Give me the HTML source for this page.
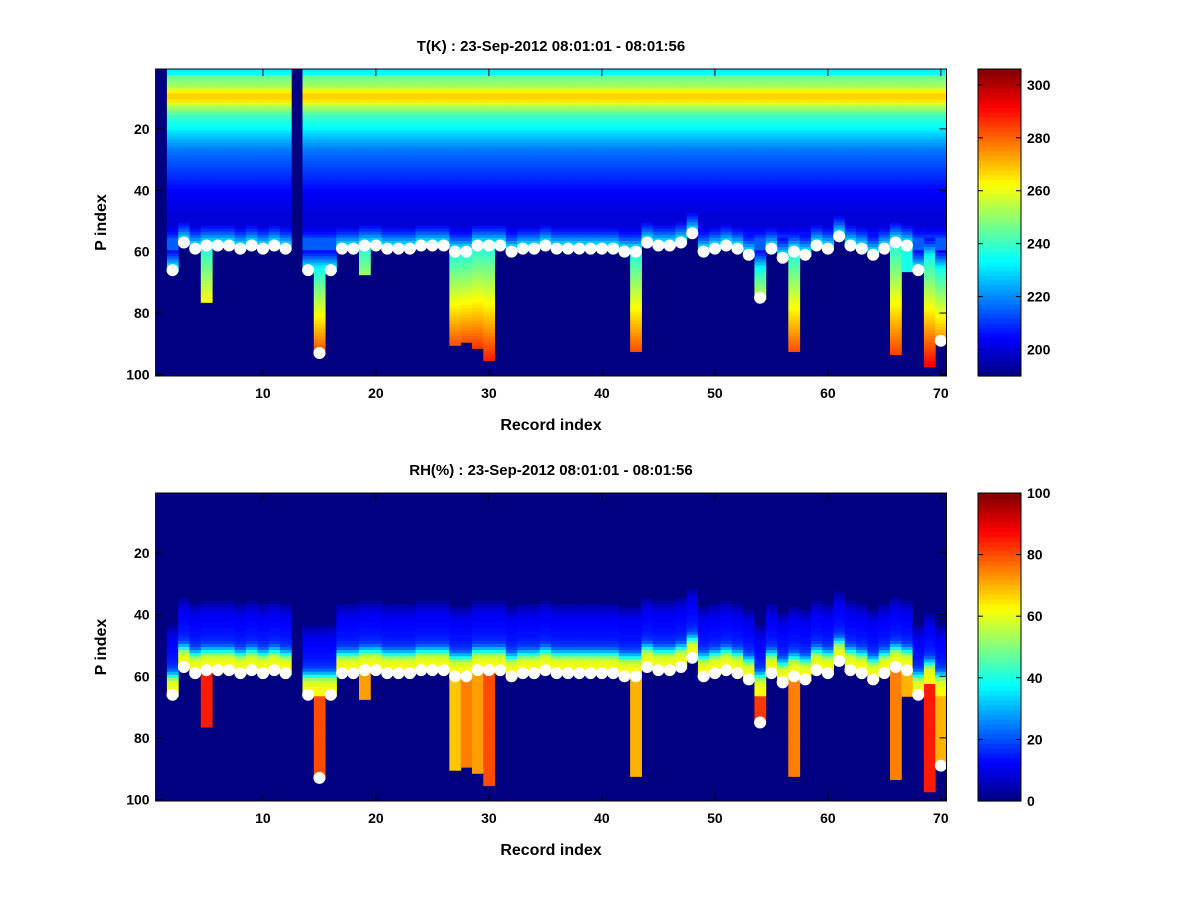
<!DOCTYPE html>
<html><head><meta charset="utf-8"><style>
body{margin:0;background:#fff;}
svg text{font-family:"Liberation Sans",sans-serif;font-weight:bold;}
</style></head><body>
<svg id="fig" width="1200" height="900" xmlns="http://www.w3.org/2000/svg">
<rect width="1200" height="900" fill="#fff"/>
<g id="top"></g>
<g id="bot"></g>
</svg>
<script>
const records = Array.from({length:70},(_,i)=>i+1);
// White surface markers (P index), NaN = no marker
const markerP = [NaN,66,57,59,58,58,58,59,58,59,58,59,NaN,66,93,66,59,59,58,58,59,59,59,58,58,58,60,60,58,58,58,60,59,59,58,59,59,59,59,59,59,60,60,57,58,58,57,54,60,59,58,59,61,75,59,62,60,61,58,59,55,58,59,61,59,57,58,66,NaN,89];
// Profile surface level (P index), NaN = missing column
const surfaceP = [NaN,66,57,59,58,58,58,59,58,59,58,59,NaN,66,93,66,59,59,58,58,59,59,59,58,58,58,60,60,58,58,58,60,59,59,58,59,59,59,59,59,59,60,60,57,58,58,57,54,60,59,58,59,61,75,59,62,60,61,58,59,55,58,59,61,59,57,58,66,62,89];
// Last P index with data
const bottomP = [0,66,57,59,76,58,58,59,58,59,58,59,0,66,92,66,59,59,67,58,59,59,59,58,58,58,90,89,91,95,58,60,59,59,58,59,59,59,59,59,59,60,92,57,58,58,57,54,60,59,58,59,61,75,59,62,92,61,58,59,55,58,59,61,59,93,66,66,97,89];
// Temperature at bottom of column (K)
const bottomT = [0,236,236,236,262,236,236,236,236,236,236,236,0,236,284,236,236,236,250,236,236,236,236,236,236,236,282,282,285,288,236,236,236,236,236,236,236,236,236,236,236,236,282,236,236,236,236,236,236,236,236,236,236,258,236,236,282,236,236,236,236,236,236,236,236,284,236,236,292,276];
// Typical upper temperature profile (K), P index 1..56
const tProfile = [232,234,244,248,250,252,258,264,268,267,265,258,252,248,244,240,238,236,235,233,230,228,226,224,222,220,218,217,216,215,214,213,212,211,210,209,208,207,206,205,204,203,203,202,202,201,201,200,200,200,200,201,203,206,210,215];
// Near-surface temperature (K), distance 6..0 above surface
const tNearSurf = [206,210,215,221,227,232,236];
// Near-surface RH (%), distance 22..0 above surface
const rhNearSurf = [4,6,8,10,11,12,12,13,13,14,14,15,16,18,22,30,40,52,58,60,62,62,62];
const rhBelow = [0,70,0,0,85,0,0,0,0,0,0,0,0,0,80,72,0,0,72,0,0,0,0,0,0,0,68,75,72,80,0,0,0,0,0,0,0,0,0,0,0,0,70,0,0,0,0,0,0,0,0,0,0,82,0,0,75,0,0,0,0,0,0,0,0,75,0,0,85,70];
const tTicks=[200,220,240,260,280,300], rhTicks=[0,20,40,60,80,100];
const xTicks=[10,20,30,40,50,60,70], yTicks=[20,40,60,80,100];

function jet(v){v=Math.max(0,Math.min(1,v));
 const f=t=>Math.max(0,Math.min(1,1.5-Math.abs(4*v-t)));
 return `rgb(${Math.round(255*f(3))},${Math.round(255*f(2))},${Math.round(255*f(1))})`;}
const NS='http://www.w3.org/2000/svg';
function el(p,tag,a,txt){const e=document.createElementNS(NS,tag);for(const k in a)e.setAttribute(k,a[k]);if(txt!==undefined)e.textContent=txt;p.appendChild(e);return e;}

function panel(g,cfg){
 const X0=155.6,X1=946.5,xs=(X1-X0)/70;
 const xr=r=>X0+(r-1)*xs;
 const ys=(cfg.Y1-cfg.Y0)/100, yp=p=>cfg.Y0+(p-1)*ys;
 const bg=el(g,'rect',{x:X0,y:cfg.Y0,width:X1-X0,height:cfg.Y1-cfg.Y0,fill:jet(0)});
 
 
 records.forEach((r,i)=>{
  const s0=surfaceP[i]; if(isNaN(s0)) return;
  const s=Math.min(s0,66);
  const last=Math.max(bottomP[i],s0);
  for(let p=1;p<=last;p++){
   const v=cfg.val(i,p,s,last); if(v===null) continue;
   const c=el(g,'rect',{x:xr(r),y:yp(p),width:xs+0.5,height:ys+0.5,fill:jet((v-cfg.min)/(cfg.max-cfg.min))});
   
   
  }
 });
 records.forEach((r,i)=>{const s=markerP[i];if(isNaN(s))return;
  const d=el(g,'circle',{cx:xr(r)+xs/2,cy:yp(s)+ys/2,r:6,fill:'#fff'});
  
  });
 el(g,'rect',{x:X0,y:cfg.Y0,width:X1-X0,height:cfg.Y1-cfg.Y0,fill:'none',stroke:'#000','stroke-width':1});
 xTicks.forEach(t=>{const x=xr(t)+xs/2;
  el(g,'line',{x1:x,x2:x,y1:cfg.Y1,y2:cfg.Y1-7,stroke:'#000'});
  el(g,'line',{x1:x,x2:x,y1:cfg.Y0,y2:cfg.Y0+7,stroke:'#000'});
  const l=el(g,'text',{x:x,y:cfg.Y1+22,'text-anchor':'middle','font-size':14},t);
  
  });
 yTicks.forEach(t=>{const y=yp(t)+ys/2;
  el(g,'line',{x1:X0,x2:X0+7,y1:y,y2:y,stroke:'#000'});
  el(g,'line',{x1:X1,x2:X1-7,y1:y,y2:y,stroke:'#000'});
  const l=el(g,'text',{x:X0-6,y:y+5,'text-anchor':'end','font-size':14},t);
  
  });
 const tt=el(g,'text',{x:551,y:cfg.Y0-18,'text-anchor':'middle','font-size':15},cfg.title);
 
 
 const xl=el(g,'text',{x:551,y:cfg.Y1+54,'text-anchor':'middle','font-size':16},'Record index');
 
 
 const yc=(cfg.Y0+cfg.Y1)/2;
 const yl=el(g,'text',{x:106,y:yc,'text-anchor':'middle','font-size':16,transform:`rotate(-90 106 ${yc})`},'P index');
 
 
 const CX=978,CW=43,cb=el(g,'g',{});
 
 
 const n=64,h=(cfg.Y1-cfg.Y0)/n;
 for(let k=0;k<n;k++) el(cb,'rect',{x:CX,y:cfg.Y1-(k+1)*h,width:CW,height:h+0.6,fill:jet((k+0.5)/n)});
 el(cb,'rect',{x:CX,y:cfg.Y0,width:CW,height:cfg.Y1-cfg.Y0,fill:'none',stroke:'#000'});
 cfg.ticks.forEach(t=>{const y=cfg.Y1-(t-cfg.min)/(cfg.max-cfg.min)*(cfg.Y1-cfg.Y0);
  el(cb,'line',{x1:CX,x2:CX+5,y1:y,y2:y,stroke:'#000'});
  el(cb,'line',{x1:CX+CW,x2:CX+CW-5,y1:y,y2:y,stroke:'#000'});
  const l=el(cb,'text',{x:CX+CW+6,y:y+5,'font-size':14},t);
  
  });
}

panel(document.getElementById('top'),{Y0:69,Y1:376,min:190,max:306,ticks:tTicks,
 title:'T(K) : 23-Sep-2012 08:01:01 - 08:01:56',
 val:(i,p,s,last)=>{
  if(p>s){return tNearSurf[6]+(bottomT[i]-tNearSurf[6])*(p-s)/Math.max(1,last-s);}
  const d=s-p; if(d<=6) return tNearSurf[6-d];
  return tProfile[Math.min(p,tProfile.length)-1];
 }});
panel(document.getElementById('bot'),{Y0:493,Y1:801,min:0,max:100,ticks:rhTicks,
 title:'RH(%) : 23-Sep-2012 08:01:01 - 08:01:56',
 val:(i,p,s,last)=>{
  if(p>s) return rhBelow[i]||70;
  const d=s-p; if(d>=rhNearSurf.length) return 0;
  return rhNearSurf[rhNearSurf.length-1-d];
 }});
</script>
</body></html>
